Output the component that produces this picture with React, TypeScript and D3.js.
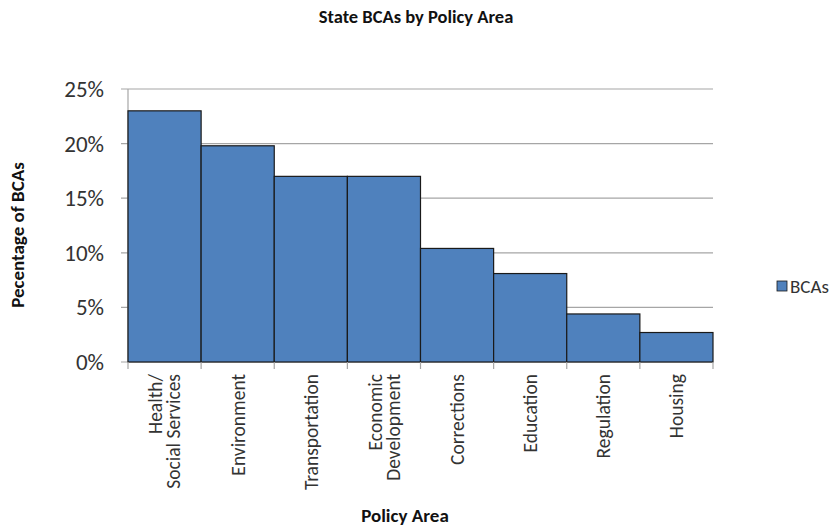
import React from 'react'
import * as d3 from 'd3'

// chart data
const categories = [
  'Health/\nSocial Services',
  'Environment',
  'Transportation',
  'Economic\nDevelopment',
  'Corrections',
  'Education',
  'Regulation',
  'Housing',
]
const bcaShares = [0.23, 0.198, 0.17, 0.17, 0.104, 0.081, 0.044, 0.027]
const yTicks = [0, 0.05, 0.1, 0.15, 0.2, 0.25]

const width = 832
const height = 528
const margin = { top: 89, right: 119, bottom: 166, left: 128 }
const font = 'Calibri, Carlito, Lato, "Liberation Sans", sans-serif'
const barFill = '#4F81BD'
const gridColor = '#a6a6a6'

const App: React.FC = () => {
  const x = d3
    .scaleBand()
    .domain(categories)
    .range([margin.left, width - margin.right])
    .padding(0)

  const y = d3
    .scaleLinear()
    .domain([0, 0.25])
    .range([height - margin.bottom, margin.top])

  const fmt = d3.format('.0%')
  const y0 = y(0)

  return (
    <svg width={width} height={height} style={{ display: 'block', position: 'absolute', left: 0, top: 0 }}>
      <rect width={width} height={height} fill="#fff" />

      {/* title */}
      <text x={416} y={23} textAnchor="middle" fontFamily={font} fontWeight="bold" fontSize={18.5} fill="#111">
        State BCAs by Policy Area
      </text>

      {/* gridlines and y ticks */}
      {yTicks.map((t) => (
        <g key={t}>
          <line x1={margin.left - 7} x2={width - margin.right} y1={y(t)} y2={y(t)} stroke={gridColor} strokeWidth={1.2} />
          <text x={104} y={y(t)} dy="0.35em" textAnchor="end" fontFamily={font} fontSize={23} fill="#333">
            {fmt(t)}
          </text>
        </g>
      ))}

      {/* y axis line */}
      <line x1={margin.left} x2={margin.left} y1={margin.top} y2={y0} stroke={gridColor} strokeWidth={1.2} />

      {/* bars */}
      {categories.map((c, i) => (
        <rect
          key={c}
          x={x(c)!}
          y={y(bcaShares[i])}
          width={x.bandwidth()}
          height={y0 - y(bcaShares[i])}
          fill={barFill}
          stroke="#1a1a1a"
          strokeWidth={1.2}
        />
      ))}

      {/* x axis ticks at category boundaries */}
      {categories.concat(['end']).map((c, i) => {
        const xx = margin.left + i * x.bandwidth()
        return <line key={c} x1={xx} x2={xx} y1={y0} y2={y0 + 7} stroke={gridColor} strokeWidth={1.2} />
      })}

      {/* x tick labels, rotated */}
      {categories.map((c) => {
        const lines = c.split('\n')
        const cx = x(c)! + x.bandwidth() / 2
        const lh = 18
        return (
          <text
            key={c}
            transform={`translate(${cx},${y0 + 12}) rotate(-90)`}
            textAnchor="end"
            fontFamily={font}
            fontSize={19.5}
            fill="#333"
          >
            {lines.map((l, j) => (
              <tspan key={j} x={0} y={(j - (lines.length - 1) / 2) * lh} dy="0.35em">
                {l}
              </tspan>
            ))}
          </text>
        )
      })}

      {/* axis titles */}
      <text x={405} y={522} textAnchor="middle" fontFamily={font} fontWeight="bold" fontSize={19} fill="#111">
        Policy Area
      </text>
      <text
        transform={`translate(24,235) rotate(-90)`}
        textAnchor="middle"
        fontFamily={font}
        fontWeight="bold"
        fontSize={19}
        fill="#111"
      >
        Pecentage of BCAs
      </text>

      {/* legend */}
      <rect x={777} y={281} width={10} height={10} fill={barFill} stroke="#1a1a1a" strokeWidth={0.8} />
      <text x={790} y={286} dy="0.35em" fontFamily={font} fontSize={19} fill="#333">
        BCAs
      </text>
    </svg>
  )
}

export default App
